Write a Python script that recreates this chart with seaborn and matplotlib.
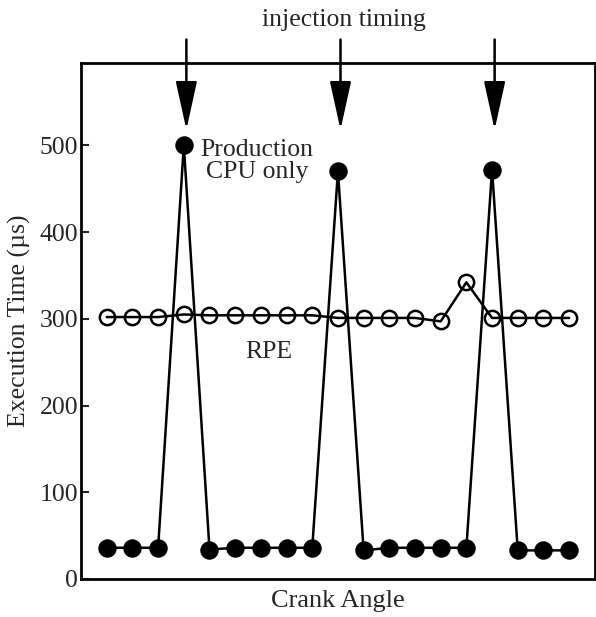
import matplotlib
matplotlib.use("Agg")
import matplotlib.pyplot as plt
import seaborn as sns
import numpy as np
import pandas as pd

# ---- data ----
crank_index = list(range(19))
production = [36, 36, 36, 500, 34, 36, 36, 36, 36, 470, 33, 36, 36, 36, 36, 472, 33, 33, 33]
rpe = [302, 302, 302, 305, 304, 304, 304, 304, 304, 301, 301, 301, 301, 297, 342, 301, 301, 301, 301]
injection_positions = [3, 9, 15]

sns.set_theme(style="white")
plt.rcParams['font.family'] = ['Liberation Serif', 'DejaVu Serif']

fig = plt.figure(figsize=(5.96, 6.17), dpi=100)
ax = fig.add_axes([0.136, 0.0616, 0.862, 0.8364])

df = pd.DataFrame({"x": crank_index, "Production": production, "RPE": rpe})

sns.lineplot(data=df, x="x", y="RPE", ax=ax, color="black", linewidth=1.8,
             marker="o", markersize=11, markerfacecolor="none",
             markeredgecolor="black", markeredgewidth=1.8, zorder=3)
sns.lineplot(data=df, x="x", y="Production", ax=ax, color="black", linewidth=1.8,
             marker="o", markersize=12.5, markerfacecolor="black",
             markeredgecolor="black", zorder=4)

ax.set_xlim(-1, 19)
ax.set_ylim(0, 595)
ax.set_yticks([0, 100, 200, 300, 400, 500])
ax.set_xticks([])
ax.tick_params(axis='y', direction='in', length=6, width=1.5, labelsize=18.5, left=True, pad=2)
for s in ax.spines.values():
    s.set_visible(True)
    s.set_color("black")
    s.set_linewidth(2)

ax.set_xlabel("Crank Angle", fontsize=19, labelpad=8)
ax.set_ylabel("Execution Time (µs)", fontsize=18.5, labelpad=6)

ax.text(5.85, 482, "Production\nCPU only", ha="center", va="center",
        fontsize=18.5, linespacing=1.05)
ax.text(6.3, 262, "RPE", ha="center", va="center", fontsize=18.5)

for xp in injection_positions:
    ax.annotate("", xy=(xp + 0.1, 518), xytext=(xp + 0.1, 622),
                arrowprops=dict(arrowstyle="-|>,head_length=2.5,head_width=0.55",
                                lw=1.8, color="black", shrinkA=0, shrinkB=0),
                annotation_clip=False)

fig.text(344 / 596, 1 - 20 / 617, "injection timing", ha="center", va="center",
         fontsize=18.5)

fig.savefig("out.png", dpi=100)
